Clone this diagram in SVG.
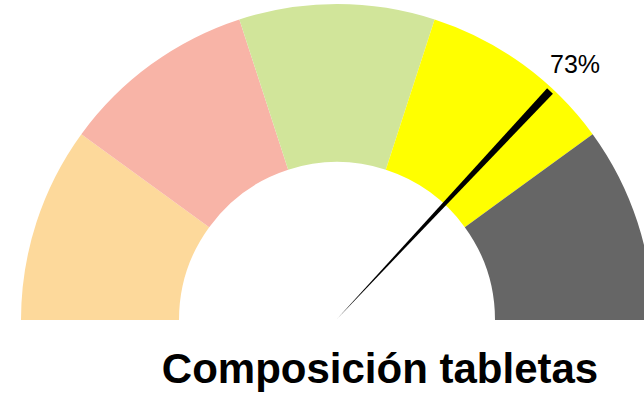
<svg xmlns="http://www.w3.org/2000/svg" width="644" height="394" viewBox="0 0 644 394">
  <style>
    .lbl { font-family: "Liberation Sans", Arial, sans-serif; fill: #000000; }
    .title { font-size: 42px; font-weight: bold; }
    .val { font-size: 25px; }
  </style>
  <rect width="644" height="394" fill="#ffffff"/>
  <g id="segment-1"><path d="M21,320 A316,316 0 0 1 81.35,134.26 L209.18,227.13 A158,158 0 0 0 179,320 Z" fill="#FDD99B"/></g>
  <g id="segment-2"><path d="M81.35,134.26 A316,316 0 0 1 239.36,19.45 L288.18,169.73 A158,158 0 0 0 209.18,227.13 Z" fill="#F8B4A7"/></g>
  <g id="segment-3"><path d="M239.36,19.45 A316,316 0 0 1 434.64,19.45 L385.82,169.73 A158,158 0 0 0 288.18,169.73 Z" fill="#D1E59A"/></g>
  <g id="segment-4"><path d="M434.64,19.45 A316,316 0 0 1 592.65,134.26 L464.82,227.13 A158,158 0 0 0 385.82,169.73 Z" fill="#FFFF00"/></g>
  <g id="segment-5"><path d="M592.65,134.26 A316,316 0 0 1 653,320 L495,320 A158,158 0 0 0 464.82,227.13 Z" fill="#666666"/></g>
  <g id="needle"><polygon points="337,319 547.1,88.3 552.9,93.7" fill="#000000"/></g>
  <g id="value-label"><text class="lbl val" x="550" y="73">73%</text></g>
  <g id="title"><text class="lbl title" x="380" y="383" text-anchor="middle">Composición tabletas</text></g>
</svg>
